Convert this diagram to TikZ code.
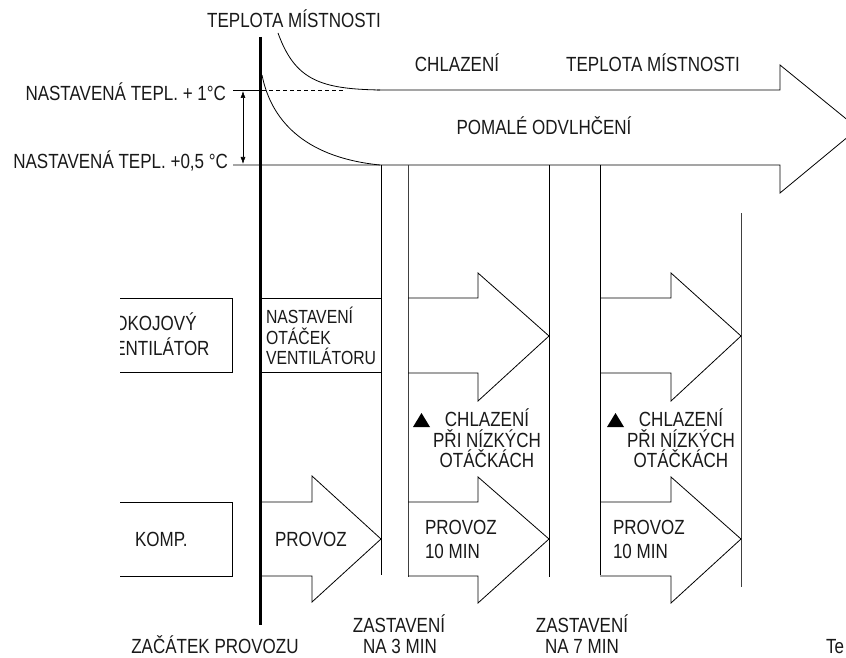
\documentclass[tikz,border=0pt]{standalone}
\usepackage{fontspec}
\setmainfont{Liberation Sans}[FakeStretch=0.83]
\usetikzlibrary{arrows.meta}
\newcommand\lblfont{\fontsize{20.5}{23}\selectfont}
\newcommand\boxfont{\fontsize{19}{21}\selectfont}
\begin{document}
\begin{tikzpicture}[x=1pt,y=-1pt,line width=0.8pt,line join=miter,
  txt/.style={inner sep=0pt,outer sep=0pt,font=\lblfont,text=black!90},
  bxt/.style={inner sep=0pt,outer sep=0pt,font=\boxfont,text=black!90},
  thin line/.style={line width=0.7pt,black!75},
  mark tri/.style={fill=black,draw=none}]
\useasboundingbox (0,0) rectangle (846,658);
\clip (0,0) rectangle (846,658);

% ---- big room-temperature arrow
\draw (377,90) -- (780,90) -- (780,65) -- (858,128.5) -- (780,193) -- (780,165) -- (233,165);
\draw (233,90) -- (260,90);
\draw[dashed,dash pattern=on 4pt off 3pt,line width=0.6pt] (262,90) -- (345,90);
% curves
\draw (278,33) .. controls (295,80) and (320,89) .. (380,90);
\draw (262,75) .. controls (272,125) and (310,158) .. (380,165);
% double arrow
\draw[{Latex[length=7pt,width=5pt]}-{Latex[length=7pt,width=5pt]},line width=0.6pt] (243,91) -- (243,164);

% ---- vertical time lines
\draw (381,165) -- (381,575);
\draw[thin line] (408,165) -- (408,577);
\draw (549,165) -- (549,577);
\draw (600,165) -- (600,575);
\draw[thin line] (741,213) -- (741,587);

% ---- thick start line
\draw[line width=3pt] (260,37) -- (260,625);

% ---- fan row
\draw (120,298) -- (232,298) -- (232,372) -- (120,372);
\draw (260,298) -- (381,298);
\draw (260,372) -- (381,372);
\draw (408,298) -- (478,298) -- (478,273) -- (549,336) -- (478,401) -- (478,373) -- (408,373);
\draw (600,298) -- (671,298) -- (671,273) -- (741,336) -- (671,401) -- (671,373) -- (600,373);

% ---- compressor row
\draw (120,502) -- (232,502) -- (232,576) -- (120,576);
\draw (260,502) -- (312,502) -- (312,476) -- (381,539) -- (312,602) -- (312,576) -- (260,576);
\draw (408,502) -- (478,502) -- (478,477) -- (549,539) -- (478,603) -- (478,576) -- (408,576);
\draw (600,502) -- (671,502) -- (671,477) -- (741,539) -- (671,603) -- (671,576) -- (600,576);

% ---- triangles
\fill[mark tri] (413,427) -- (430,427) -- (421.5,413) -- cycle;
\fill[mark tri] (607,427) -- (624,427) -- (615.5,413) -- cycle;

% ---- texts
\node[txt,anchor=base] (t1) at (294,28) {TEPLOTA MÍSTNOSTI};
\node[txt,anchor=base] (t2) at (457,72) {CHLAZENÍ};
\node[txt,anchor=base] (t3) at (653,72) {TEPLOTA MÍSTNOSTI};
\node[txt,anchor=base] (t4) at (544,135) {POMALÉ ODVLHČENÍ};
\node[txt,anchor=base east] (t5) at (226,101) {NASTAVENÁ TEPL. + 1°C};
\node[txt,anchor=base east] (t6) at (228,168) {NASTAVENÁ TEPL. +0,5 °C};

\node[bxt,anchor=base west] (n1) at (266,323) {NASTAVENÍ};
\node[bxt,anchor=base west] (n2) at (266,344) {OTÁČEK};
\node[bxt,anchor=base west] (n3) at (266,364) {VENTILÁTORU};

\begin{scope}
\clip (120,280) rectangle (240,400);
\node[txt,anchor=base west] (p1) at (103,330) {POKOJOVÝ};
\node[txt,anchor=base west] (p2) at (103,355) {VENTILÁTOR};
\end{scope}

\node[txt,anchor=base] (c1) at (487,426) {CHLAZENÍ};
\node[txt,anchor=base] (c2) at (487,447) {PŘI NÍZKÝCH};
\node[txt,anchor=base] (c3) at (487,467) {OTÁČKÁCH};
\node[txt,anchor=base] (d1) at (681,426) {CHLAZENÍ};
\node[txt,anchor=base] (d2) at (681,447) {PŘI NÍZKÝCH};
\node[txt,anchor=base] (d3) at (681,467) {OTÁČKÁCH};

\node[txt,anchor=base west] (k1) at (135,546) {KOMP.};
\node[txt,anchor=base west] (k2) at (275,546) {PROVOZ};
\node[txt,anchor=base west] (k3) at (425,534) {PROVOZ};
\node[txt,anchor=base west] (k4) at (425,558) {10 MIN};
\node[txt,anchor=base west] (k5) at (613,534) {PROVOZ};
\node[txt,anchor=base west] (k6) at (613,558) {10 MIN};

\node[txt,anchor=base] (b1) at (215,653) {ZAČÁTEK PROVOZU};
\node[txt,anchor=base] (b2) at (399,632) {ZASTAVENÍ};
\node[txt,anchor=base] (b3) at (400,653) {NA 3 MIN};
\node[txt,anchor=base] (b4) at (582,632) {ZASTAVENÍ};
\node[txt,anchor=base] (b5) at (582,653) {NA 7 MIN};
\node[txt,anchor=base west] (b6) at (826,653) {Te};
\end{tikzpicture}
\end{document}
